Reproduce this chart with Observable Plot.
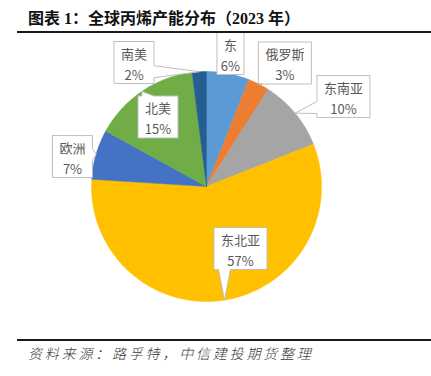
<!DOCTYPE html>
<html>
<head>
<meta charset="utf-8">
<script src="https://cdn.jsdelivr.net/npm/d3@7"></script>
<script src="https://cdn.jsdelivr.net/npm/@observablehq/plot@0.6"></script>
<style>
  html, body { margin: 0; padding: 0; background: #fff; width: 431px; height: 376px; overflow: hidden; }
  #title {
    margin-left: 17px; padding-left: 11px; padding-top: 8px; height: 23px; line-height: 21px;
    border-bottom: 2px solid #1a1a1a;
    font-family: "Liberation Serif", "Noto Sans CJK SC", serif; font-weight: bold; font-size: 16px; color: #111;
    white-space: nowrap;
  }
  #chart svg { display: block; }
  #caption {
    margin-left: 17px; padding-left: 11px; padding-top: 2px;
    border-top: 2px solid #1a1a1a; line-height: 20px;
    font-family: "Noto Sans CJK SC", sans-serif; font-style: italic; font-weight: 300; font-size: 14px; letter-spacing: 2.8px; color: #3a3a3a;
    white-space: nowrap;
  }
</style>
</head>
<body>
<div id="title">图表 1：全球丙烯产能分布（2023 年）</div>
<div id="chart"></div>
<div id="caption">资料来源：路孚特，中信建投期货整理</div>
<script>
// ---- data ----
const names = ["东", "俄罗斯", "东南亚", "东北亚", "欧洲", "北美", "南美"];
const shares = [6, 3, 10, 57, 7, 15, 2];
const colors = ["#5B9BD5", "#ED7D31", "#A5A5A5", "#FFC000", "#4472C4", "#70AD47", "#255E91"];

// ---- layout (label placement, polar: degrees clockwise from top, radius in pie radii) ----
const labelAngle = [10.2, 32.4, 56.7, 151.3, 282.6, 325.1, 329.7];
const labelRadius = [1.175, 1.272, 1.425, 0.615, 1.194, 0.737, 1.249];

const W = 431, H = 306, R = 115, CX = 206, CY = 153;
const total = d3.sum(shares);

let acc = 0;
const wedgePts = [];
const slices = [];
names.forEach((n, i) => {
  const a0 = acc / total * 2 * Math.PI;
  acc += shares[i];
  const a1 = acc / total * 2 * Math.PI;
  const mid = (a0 + a1) / 2;
  slices.push({name: n, share: shares[i], a0, a1, mid, i});
  wedgePts.push({name: n, x: 0, y: 0});
  const steps = Math.max(2, Math.ceil((a1 - a0) / (Math.PI / 360)));
  for (let k = 0; k <= steps; k++) {
    const a = a0 + (a1 - a0) * k / steps;
    wedgePts.push({name: n, x: Math.sin(a), y: Math.cos(a)});
  }
  wedgePts.push({name: n, x: 0, y: 0});
});

function callout(bx, by, w, h, tx, ty) {
  const l = bx - w / 2, r = bx + w / 2, t = by - h / 2, b = by + h / 2;
  const bw = 6;
  const clamp = (v, lo, hi) => Math.max(lo, Math.min(hi, v));
  let pts;
  if (ty > b) { const c = clamp(tx, l + bw + 4, r - bw - 4); pts = [[l, t], [r, t], [r, b], [c + bw, b], [tx, ty], [c - bw, b], [l, b]]; }
  else if (ty < t) { const c = clamp(tx, l + bw + 4, r - bw - 4); pts = [[l, t], [c - bw, t], [tx, ty], [c + bw, t], [r, t], [r, b], [l, b]]; }
  else if (tx < l) { const c = clamp(ty, t + bw + 4, b - bw - 4); pts = [[l, t], [r, t], [r, b], [l, b], [l, c + bw], [tx, ty], [l, c - bw]]; }
  else if (tx > r) { const c = clamp(ty, t + bw + 4, b - bw - 4); pts = [[l, t], [r, t], [r, c - bw], [tx, ty], [r, c + bw], [r, b], [l, b]]; }
  else pts = [[l, t], [r, t], [r, b], [l, b]];
  pts.push(pts[0]);
  return pts;
}

const boxPts = [];
const labels = [];
slices.forEach((s, i) => {
  const th = labelAngle[i] * Math.PI / 180;
  const bx = labelRadius[i] * R * Math.sin(th);
  const by = -labelRadius[i] * R * Math.cos(th);
  const w = s.name.length * 13 + 14, h = 42;
  const tx = R * Math.sin(s.mid), ty = -R * Math.cos(s.mid);
  callout(bx, by, w, h, tx, ty).forEach(([px, py]) => boxPts.push({name: s.name, x: px / R, y: -py / R}));
  labels.push({name: s.name, x: bx / R, y: -by / R, text: s.name + "\n" + s.share + "%"});
});

const chart = Plot.plot({
  width: W, height: H,
  marginTop: 0, marginRight: 0, marginBottom: 0, marginLeft: 0,
  x: {domain: [-CX / R, (W - CX) / R], axis: null},
  y: {domain: [-(H - CY) / R, CY / R], axis: null},
  color: {domain: names, range: colors},
  style: {fontFamily: "'Noto Sans CJK SC', sans-serif", background: "white"},
  marks: [
    Plot.line(wedgePts, {x: "x", y: "y", z: "name", fill: "name", stroke: "name", strokeWidth: 0.5, curve: "linear"}),
    Plot.line(boxPts, {x: "x", y: "y", z: "name", fill: "white", stroke: "#BFBFBF", strokeWidth: 1, curve: "linear"}),
    Plot.text(labels, {x: "x", y: "y", text: "text", fontSize: 13, lineHeight: 1.6, fill: "#595959"})
  ]
});
document.getElementById("chart").appendChild(chart);
</script>
</body>
</html>
